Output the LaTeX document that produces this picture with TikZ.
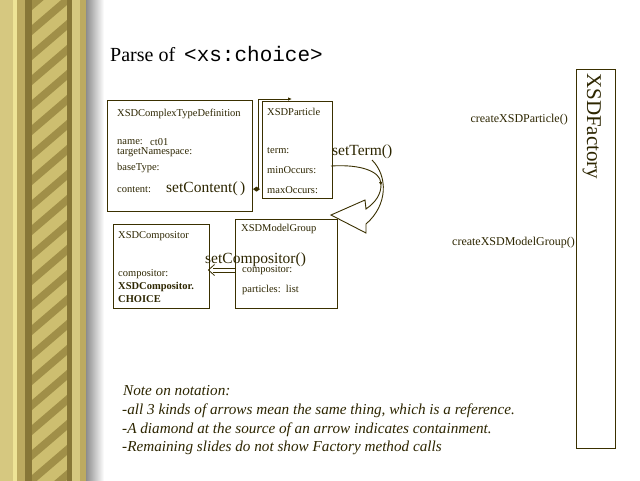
\documentclass[tikz,border=0pt]{standalone}
\usepackage{fontspec}
\setmainfont{Liberation Serif}
\setmonofont{Liberation Mono}
\usetikzlibrary{arrows.meta}
\definecolor{ink}{RGB}{58,48,0}
\definecolor{txt}{RGB}{45,38,0}
\definecolor{goldL}{RGB}{214,200,128}
\definecolor{goldM}{RGB}{188,170,96}
\definecolor{goldD}{RGB}{135,118,55}
\definecolor{pale}{RGB}{238,228,150}
\definecolor{ropeL}{RGB}{205,190,112}
\definecolor{ropeD}{RGB}{160,143,72}
\begin{document}
\begin{tikzpicture}[x=1pt,y=-1pt,
  box/.style={draw=ink, line width=1pt, anchor=north west, inner sep=0pt},
  lbl/.style={anchor=base west, inner sep=0pt, text=txt, font=\fontsize{10.5}{11}\selectfont},
  big/.style={anchor=base west, inner sep=0pt, text=txt, font=\fontsize{15.5}{16}\selectfont},
  fac/.style={anchor=base east, inner sep=0pt, text=txt, font=\fontsize{12}{13}\selectfont},
  note/.style={anchor=base west, inner sep=0pt, text=txt, font=\fontsize{15.2}{16}\selectfont\itshape},
  conn/.style={draw=ink, line width=0.9pt}]
\useasboundingbox (0,0) rectangle (640,480);
\fill[white] (0,-10) rectangle (650,490);
% decorative column
\fill[goldL] (0,-10) rectangle (13,490);
\fill[pale] (13,-10) rectangle (17,490);
\fill[goldM] (17,-10) rectangle (25,490);
\fill[goldD] (25,-10) rectangle (32,490);
\fill[ropeL] (32,-10) rectangle (67,490);
\begin{scope}
\clip (32,-10) rectangle (67,490);
\foreach \i in {-2,...,24} {
  \fill[ropeD] (32,\i*25) -- (67,\i*25-30) -- (67,\i*25-20) -- (32,\i*25+10) -- cycle;
}
\end{scope}
\fill[goldD] (67,-10) rectangle (72,490);
\fill[goldL] (72,-10) rectangle (80,490);
\fill[goldM] (80,-10) rectangle (86,490);
\shade[left color=black!45, right color=white] (86,-10) rectangle (104,490);
% title
\node[anchor=base west, inner sep=0pt, font=\fontsize{20}{22}\selectfont] (title) at (110,61)
  {Parse of\hspace{9pt}{\ttfamily\fontsize{21}{22}\selectfont <xs:choice>}};
% boxes
\node[box, minimum width=145pt, minimum height=111pt] (ctd) at (107,100) {};
\node[box, minimum width=70pt, minimum height=97pt] (part) at (262,101) {};
\node[box, minimum width=96pt, minimum height=84pt] (comp) at (113,224) {};
\node[box, minimum width=102pt, minimum height=89pt] (mg) at (235,219) {};
\node[box, minimum width=39pt, minimum height=379pt] (fact) at (576,69) {};
% CTD texts
\node[lbl] (ctdt) at (117,116) {XSDComplexTypeDefinition};
\node[lbl] (ctdn) at (117,144) {name:};
\node[lbl, font=\fontsize{10.5}{11}\selectfont] (ctdv) at (150,145) {ct01};
\node[lbl] (ctdtn) at (117,154.5) {targetNamespace:};
\node[lbl] (ctdb) at (117,170) {baseType:};
\node[lbl] (cont) at (117,192) {content:};
\node[big] (setc) at (166,192) {setContent(\,)};
% Particle texts
\node[lbl] (partt) at (267,115) {XSDParticle};
\node[lbl] (term) at (267,153) {term:};
\node[lbl] (minocc) at (267,173) {minOccurs:};
\node[lbl] (maxocc) at (267,193) {maxOccurs:};
\node[big] (sett) at (332,155) {setTerm()};
% Compositor texts
\node[lbl] (compt) at (118,238) {XSDCompositor};
\node[lbl] (compc) at (118,276) {compositor:};
\node[lbl, font=\fontsize{10.5}{11}\selectfont\bfseries] (compv1) at (118,289) {XSDCompositor.};
\node[lbl, font=\fontsize{10.5}{11}\selectfont\bfseries] (compv2) at (118,302) {CHOICE};
% ModelGroup texts
\node[lbl] (mgt) at (241,231) {XSDModelGroup};
\node[big] (setcomp) at (205,263.5) {setCompositor()};
\node[lbl] (mgc) at (242,272.5) {compositor:};
\node[lbl] (mgp) at (242,292) {particles:\ \ list};
% Factory
\node[fac] (fp) at (568,122) {createXSDParticle()};
\node[fac] (fm) at (575,245) {createXSDModelGroup()};
\node[rotate=-90, anchor=base west, inner sep=0pt, text=txt, font=\fontsize{21}{22}\selectfont] (factt) at (587,73) {XSDFactory};
% connectors
\coordinate (pin) at (292,99);
\draw[conn, {Diamond[length=7pt,width=5pt]}-{Latex[length=4pt,width=3.5pt]}] (ctd.east |- cont.center) -- ++(5,0) |- (pin);
\coordinate (tstart) at (331,166);
\coordinate (tend) at (381,186);
\draw[conn, -{Latex[length=4pt,width=3.5pt]}] (tstart) .. controls (362,164) and (380,172) .. (tend);
\coordinate (bt) at (331,215);
\draw[conn] (372,160) .. controls (388,176) and (388,205) .. (366,224) -- (366,233) -- (bt) -- (365,200) -- (366,209) .. controls (376,202) and (381,194) .. (381,185);
% double-line reference arrow (ModelGroup -> Compositor)
\coordinate (dy1) at (0,268);
\coordinate (dy2) at (0,272);
\coordinate (dtip) at (208.5,270);
\draw[conn, line width=0.8pt] (mg.west |- dy1) -- (213,268);
\draw[conn, line width=0.8pt] (mg.west |- dy2) -- (213,272);
\draw[conn, line width=0.8pt] (214.5,264.5) -- (dtip) -- (214.5,275.5);
% notes
\node[note] (n1) at (123,395) {Note on notation:};
\node[note] (n2) at (122,414) {-all 3 kinds of arrows mean the same thing, which is a reference.};
\node[note] (n3) at (122,433) {-A diamond at the source of an arrow indicates containment.};
\node[note] (n4) at (122,451) {-Remaining slides do not show Factory method calls};
\end{tikzpicture}
\end{document}
